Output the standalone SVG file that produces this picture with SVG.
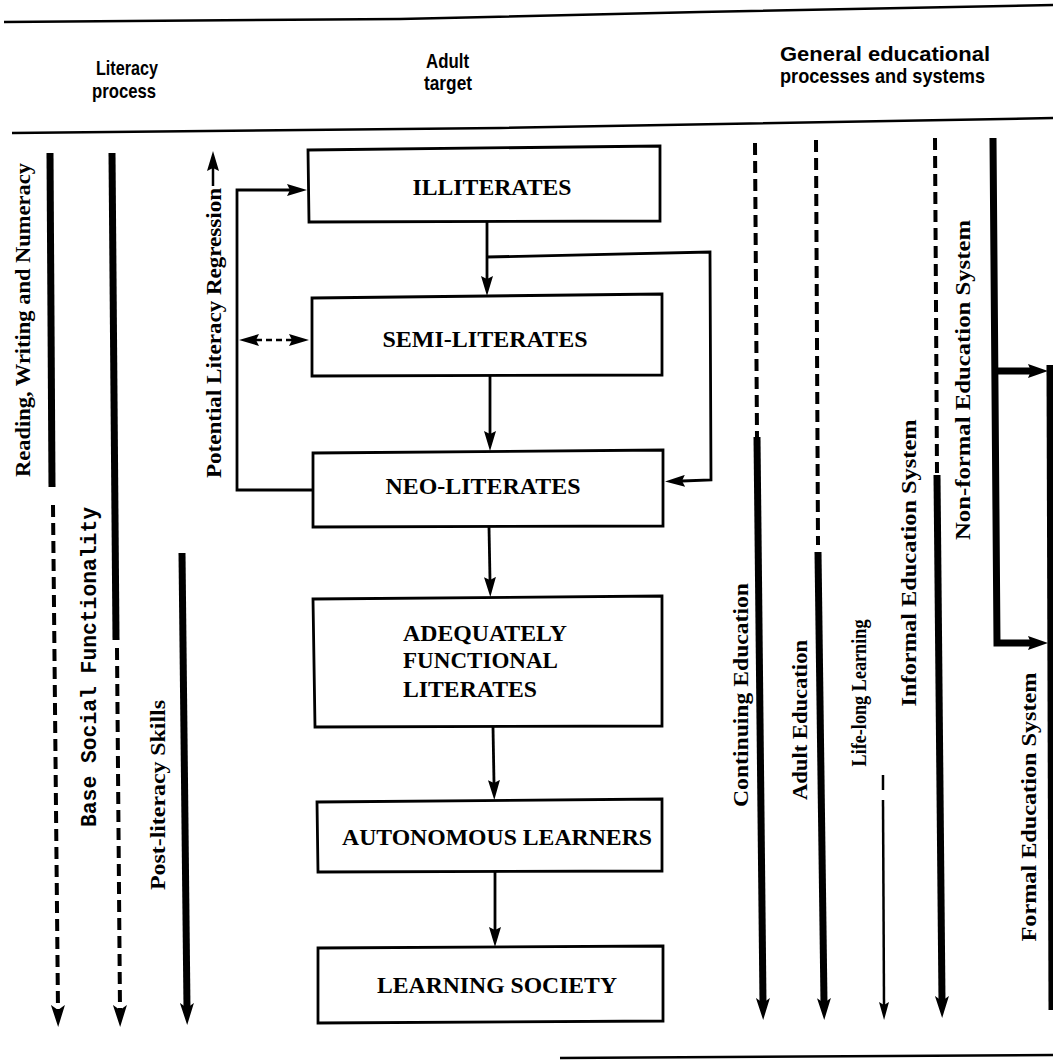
<svg xmlns="http://www.w3.org/2000/svg" width="1053" height="1061" viewBox="0 0 1053 1061">
  <style>
    .rule { stroke: #000; stroke-width: 2.5; fill: none; }
    .thick { stroke: #000; stroke-width: 7; fill: none; }
    .dash { stroke: #000; stroke-width: 4; fill: none; stroke-dasharray: 12 6; }
    .thin { stroke: #000; stroke-width: 2.5; fill: none; }
    .conn { stroke: #000; stroke-width: 2.8; fill: none; }
    .conn-dash { stroke: #000; stroke-width: 2.5; fill: none; stroke-dasharray: 6 4; }
    .box { stroke: #000; stroke-width: 2.8; fill: #fff; }
    .head { font-family: "Liberation Sans", Arial, sans-serif; font-weight: bold; font-size: 21px; fill: #000; }
    .vlab { font-family: "Liberation Serif", "Times New Roman", serif; font-weight: bold; font-size: 22px; fill: #000; }
    .mono { font-family: "Liberation Mono", "Courier New", monospace; font-weight: bold; font-size: 22px; fill: #000; }
    .blab { font-family: "Liberation Serif", "Times New Roman", serif; font-weight: bold; font-size: 23px; fill: #000; }
  </style>
  <defs>
    <marker id="ahBig" viewBox="0 0 22 14" refX="5" refY="7" markerWidth="22" markerHeight="14" markerUnits="userSpaceOnUse" orient="auto">
      <path d="M0,0 L22,7 L0,14 L5,7 z" fill="#000"/>
    </marker>
    <marker id="ahMid" viewBox="0 0 20 14" refX="3" refY="7" markerWidth="20" markerHeight="14" markerUnits="userSpaceOnUse" orient="auto">
      <path d="M0,0 L20,7 L0,14 L3,7 z" fill="#000"/>
    </marker>
    <marker id="ahSmall" viewBox="0 0 20 12" refX="3" refY="6" markerWidth="20" markerHeight="12" markerUnits="userSpaceOnUse" orient="auto-start-reverse">
      <path d="M0,0 L20,6 L0,12 L3,6 z" fill="#000"/>
    </marker>
    <marker id="ahThin" viewBox="0 0 18 10" refX="3" refY="5" markerWidth="18" markerHeight="10" markerUnits="userSpaceOnUse" orient="auto">
      <path d="M0,0 L18,5 L0,10 L3,5 z" fill="#000"/>
    </marker>
  </defs>

  <rect width="1053" height="1061" fill="#fff"/>

  <!-- frame rules -->
  <g id="rules">
    <path class="rule" d="M4,22 L400,19 L700,12 L1053,5" stroke-width="3"/>
    <path class="rule" d="M12,133 L500,128 L1053,118"/>
    <path class="rule" d="M560,1058 L1053,1055"/>
  </g>

  <!-- column headings -->
  <g id="headings">
    <text class="head" x="96" y="75" textLength="62" lengthAdjust="spacingAndGlyphs">Literacy</text>
    <text class="head" x="92" y="98" textLength="64" lengthAdjust="spacingAndGlyphs">process</text>
    <text class="head" x="426" y="68" textLength="43" lengthAdjust="spacingAndGlyphs">Adult</text>
    <text class="head" x="424" y="90" textLength="48" lengthAdjust="spacingAndGlyphs">target</text>
    <text class="head" x="780" y="61" textLength="210" lengthAdjust="spacingAndGlyphs">General educational</text>
    <text class="head" x="780" y="83" textLength="205" lengthAdjust="spacingAndGlyphs">processes and systems</text>
  </g>

  <!-- literacy process strands -->
  <g id="literacy-process">
    <g id="reading-writing-numeracy">
      <line class="thick" x1="50" y1="153" x2="52" y2="487"/>
      <line class="dash" x1="53" y1="505" x2="58" y2="1010" marker-end="url(#ahBig)"/>
      <text class="vlab" transform="translate(30,320) rotate(-90)" text-anchor="middle" textLength="314" lengthAdjust="spacingAndGlyphs">Reading, Writing and Numeracy</text>
    </g>
    <g id="base-social-functionality">
      <line class="thick" x1="112" y1="153" x2="116" y2="640"/>
      <line class="dash" x1="117" y1="648" x2="120" y2="1010" marker-end="url(#ahBig)"/>
      <text class="mono" transform="translate(96,667) rotate(-90)" text-anchor="middle" textLength="320" lengthAdjust="spacingAndGlyphs">Base Social Functionality</text>
    </g>
    <g id="post-literacy-skills">
      <line class="thick" x1="182" y1="553" x2="187" y2="1008" marker-end="url(#ahBig)"/>
      <text class="vlab" transform="translate(165,795) rotate(-90)" text-anchor="middle" textLength="190" lengthAdjust="spacingAndGlyphs">Post-literacy Skills</text>
    </g>
    <g id="potential-literacy-regression">
      <text class="vlab" transform="translate(221,333) rotate(-90)" text-anchor="middle" textLength="290" lengthAdjust="spacingAndGlyphs">Potential Literacy Regression</text>
      <line class="thin" x1="213" y1="186" x2="213" y2="168" marker-end="url(#ahSmall)"/>
    </g>
  </g>

  <!-- adult target stages -->
  <g id="illiterates">
    <path class="box" d="M308,150 L660,146 L660,221 L309,222 z"/>
    <text class="blab" x="492" y="195" text-anchor="middle" textLength="159" lengthAdjust="spacingAndGlyphs">ILLITERATES</text>
  </g>
  <g id="semi-literates">
    <path class="box" d="M312,298 L662,294 L662,375 L312,376 z"/>
    <text class="blab" x="485" y="347" text-anchor="middle" textLength="205" lengthAdjust="spacingAndGlyphs">SEMI-LITERATES</text>
  </g>
  <g id="neo-literates">
    <path class="box" d="M313,453 L663,450 L663,526 L313,527 z"/>
    <text class="blab" x="483" y="494" text-anchor="middle" textLength="195" lengthAdjust="spacingAndGlyphs">NEO-LITERATES</text>
  </g>
  <g id="adequately-functional-literates">
    <path class="box" d="M313,599 L662,596 L662,726 L315,727 z"/>
    <text class="blab" x="403" y="641" textLength="164" lengthAdjust="spacingAndGlyphs">ADEQUATELY</text>
    <text class="blab" x="403" y="668" textLength="155" lengthAdjust="spacingAndGlyphs">FUNCTIONAL</text>
    <text class="blab" x="403" y="697" textLength="134" lengthAdjust="spacingAndGlyphs">LITERATES</text>
  </g>
  <g id="autonomous-learners">
    <path class="box" d="M317,802 L662,799 L662,871 L318,872 z"/>
    <text class="blab" x="342" y="845" textLength="310" lengthAdjust="spacingAndGlyphs">AUTONOMOUS LEARNERS</text>
  </g>
  <g id="learning-society">
    <path class="box" d="M318,948 L663,946 L663,1021 L318,1023 z"/>
    <text class="blab" x="377" y="993" textLength="240" lengthAdjust="spacingAndGlyphs">LEARNING SOCIETY</text>
  </g>

  <!-- general educational processes and systems -->
  <g id="educational-systems">
    <g id="continuing-education">
      <line class="dash" x1="755" y1="143" x2="757" y2="437"/>
      <line class="thick" x1="757" y1="437" x2="763" y2="1003" marker-end="url(#ahBig)"/>
      <text class="vlab" transform="translate(748,695) rotate(-90)" text-anchor="middle" textLength="224" lengthAdjust="spacingAndGlyphs">Continuing Education</text>
    </g>
    <g id="adult-education">
      <line class="dash" x1="816" y1="140" x2="818" y2="545"/>
      <line class="thick" x1="818" y1="552" x2="824" y2="1003" marker-end="url(#ahBig)"/>
      <text class="vlab" transform="translate(807,720) rotate(-90)" text-anchor="middle" textLength="160" lengthAdjust="spacingAndGlyphs">Adult Education</text>
    </g>
    <g id="life-long-learning">
      <line class="thin" x1="883" y1="775" x2="883" y2="790"/>
      <line class="thin" x1="883" y1="800" x2="884" y2="1005" marker-end="url(#ahThin)"/>
      <text class="vlab" transform="translate(866,693) rotate(-90)" text-anchor="middle" textLength="147" lengthAdjust="spacingAndGlyphs">Life-long Learning</text>
    </g>
    <g id="informal-education-system">
      <line class="dash" x1="935" y1="138" x2="937" y2="473"/>
      <line class="thick" x1="937" y1="475" x2="942" y2="1001" marker-end="url(#ahBig)"/>
      <text class="vlab" transform="translate(916,563) rotate(-90)" text-anchor="middle" textLength="287" lengthAdjust="spacingAndGlyphs">Informal Education System</text>
    </g>
    <g id="non-formal-education-system">
      <path class="thick" d="M993,138 L997,643 L1031,643" marker-end="url(#ahMid)"/>
      <line class="thick" x1="994" y1="371" x2="1031" y2="371" stroke-width="5" marker-end="url(#ahMid)"/>
      <text class="vlab" transform="translate(970,380) rotate(-90)" text-anchor="middle" textLength="320" lengthAdjust="spacingAndGlyphs">Non-formal Education System</text>
    </g>
    <g id="formal-education-system">
      <line class="thick" x1="1050" y1="365" x2="1052" y2="1010" stroke-width="5"/>
      <text class="vlab" transform="translate(1036,807) rotate(-90)" text-anchor="middle" textLength="269" lengthAdjust="spacingAndGlyphs">Formal Education System</text>
    </g>
  </g>

  <!-- connectors between stages -->
  <g id="connectors">
    <line class="conn" x1="487" y1="221" x2="487" y2="279" marker-end="url(#ahSmall)"/>
    <line class="conn" x1="490" y1="375" x2="490" y2="434" marker-end="url(#ahSmall)"/>
    <line class="conn" x1="489" y1="527" x2="490" y2="580" marker-end="url(#ahSmall)"/>
    <line class="conn" x1="493" y1="727" x2="494" y2="783" marker-end="url(#ahSmall)"/>
    <line class="conn" x1="495" y1="872" x2="495" y2="930" marker-end="url(#ahSmall)"/>
    <!-- bypass from illiterates straight to neo-literates -->
    <path class="conn" d="M487,257 L710,252 L711,480 L682,481" marker-end="url(#ahSmall)"/>
    <!-- regression loop -->
    <path class="conn" d="M313,490 L237,490 L237,190 L290,190" marker-end="url(#ahSmall)"/>
    <line class="conn-dash" x1="256" y1="340" x2="292" y2="340" marker-start="url(#ahSmall)" marker-end="url(#ahSmall)"/>
  </g>
</svg>
